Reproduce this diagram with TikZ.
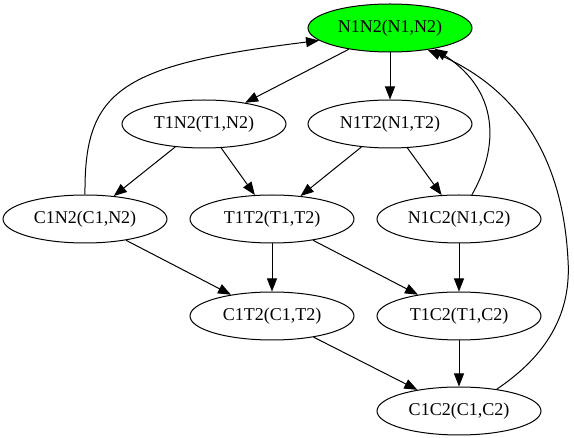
\documentclass[tikz,border=0pt]{standalone}
\usepackage{fontspec}
\setmainfont{Liberation Serif}
\usepackage{tikz}
\usetikzlibrary{shapes,arrows.meta}
\definecolor{gvgreen}{HTML}{00FF00}
\tikzset{
  state/.style={ellipse,draw,line width=1pt,minimum width=164pt,minimum height=48pt,inner sep=0pt,font=\fontsize{18}{20}\selectfont},
  start state/.style={state,fill=gvgreen},
  edge/.style={->,line width=1pt,>={Triangle[length=13pt,width=10pt]}}
}

\begin{document}
\begin{tikzpicture}[x=1pt,y=-1pt]
			\useasboundingbox (0,0) rectangle (574,438);
			% states
			\node[start state] (n1n2) at (390,28)  {N1N2(N1,N2)};
			\node[state] (t1n2) at (204,124) {T1N2(T1,N2)};
			\node[state] (n1t2) at (390,124) {N1T2(N1,T2)};
			\node[state] (c1n2) at (85,219)  {C1N2(C1,N2)};
			\node[state] (t1t2) at (272,219) {T1T2(T1,T2)};
			\node[state] (n1c2) at (459,219) {N1C2(N1,C2)};
			\node[state] (c1t2) at (272,316) {C1T2(C1,T2)};
			\node[state] (t1c2) at (459,316) {T1C2(T1,C2)};
			\node[state] (c1c2) at (459,411) {C1C2(C1,C2)};
			% transitions
			\foreach \a/\b in {n1n2/t1n2,n1n2/n1t2,t1n2/c1n2,t1n2/t1t2,n1t2/t1t2,n1t2/n1c2,
			                   c1n2/c1t2,t1t2/c1t2,t1t2/t1c2,n1c2/t1c2,c1t2/c1c2,t1c2/c1c2}
			\draw[edge] (\a) -- (\b);
			% back to N1N2
			\draw[edge] (c1n2.north) .. controls (84,90) and (120,65) .. (n1n2.190);
			\draw[edge] (n1c2.62) .. controls (495,155) and (505,95) .. (n1n2.335);
			\draw[edge] (c1c2.30) .. controls (540,360) and (572,320) .. (568,260)
			            .. controls (563,160) and (520,90) .. (n1n2.330);
		\end{tikzpicture}
\end{document}
